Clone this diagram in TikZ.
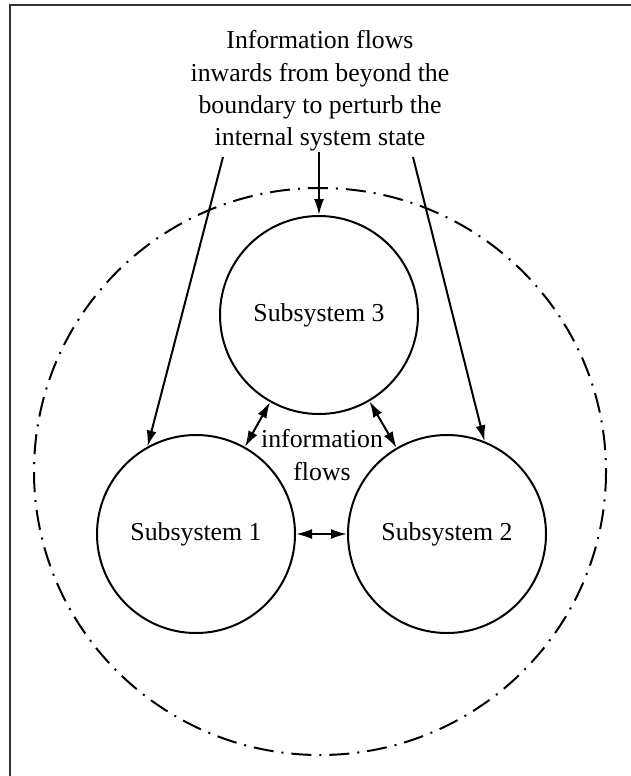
\documentclass[tikz,border=0pt]{standalone}
\usepackage{fontspec}
\setmainfont{Liberation Serif}
\usetikzlibrary{arrows.meta}
\newcommand{\diagfont}{\fontsize{12.9}{16.2}\selectfont}

\begin{document}
\begin{tikzpicture}[
x=0.5pt, y=-0.5pt,
Subsystems/.style={draw,circle,line width=1pt,minimum size=99pt,inner sep=0pt,font=\diagfont},
Flows/.style={-{Latex[length=8pt, width=5pt]},line width=1pt},
TwoWay/.style={{Latex[length=8pt, width=5pt]}-{Latex[length=8pt, width=5pt]},line width=1pt},
Boundary/.style={line width=1pt,dash pattern=on 10pt off 4pt on 1pt off 4pt}
]
\useasboundingbox (0,0) rectangle (631,776);

% frame (only top and left side show)
\draw[line width=1pt,black!80] (10,776) -- (10,5) -- (631,5);

% system boundary
\draw[Boundary] (320,471.5) ellipse [x radius=286, y radius=283.5];

% the three subsystems
\node[Subsystems] (s3) at (319,315) {Subsystem 3};
\node[Subsystems] (s1) at (196,534) {Subsystem 1};
\node[Subsystems] (s2) at (447,534) {Subsystem 2};

\node[align=center,font=\diagfont] (intro) at (320,91)
{Information flows\\inwards from beyond the\\boundary to perturb the\\internal system state};
\node[align=center,font=\diagfont,text depth=0pt] (inner) at (322,455) {information\\flows};

% inflows from outside
\coordinate (topin) at (319,152);
\coordinate (leftin) at (223,157);
\coordinate (rightin) at (413,157);

\draw[Flows] (topin) -- (s3);
\draw[Flows] (leftin) -- (s1.119);
\draw[Flows] (rightin) -- (s2.68);

% flows between the subsystems
\draw[TwoWay] (s3) -- (s1);
\draw[TwoWay] (s3) -- (s2);
\draw[TwoWay] (s1) -- (s2);

\end{tikzpicture}
\end{document}
